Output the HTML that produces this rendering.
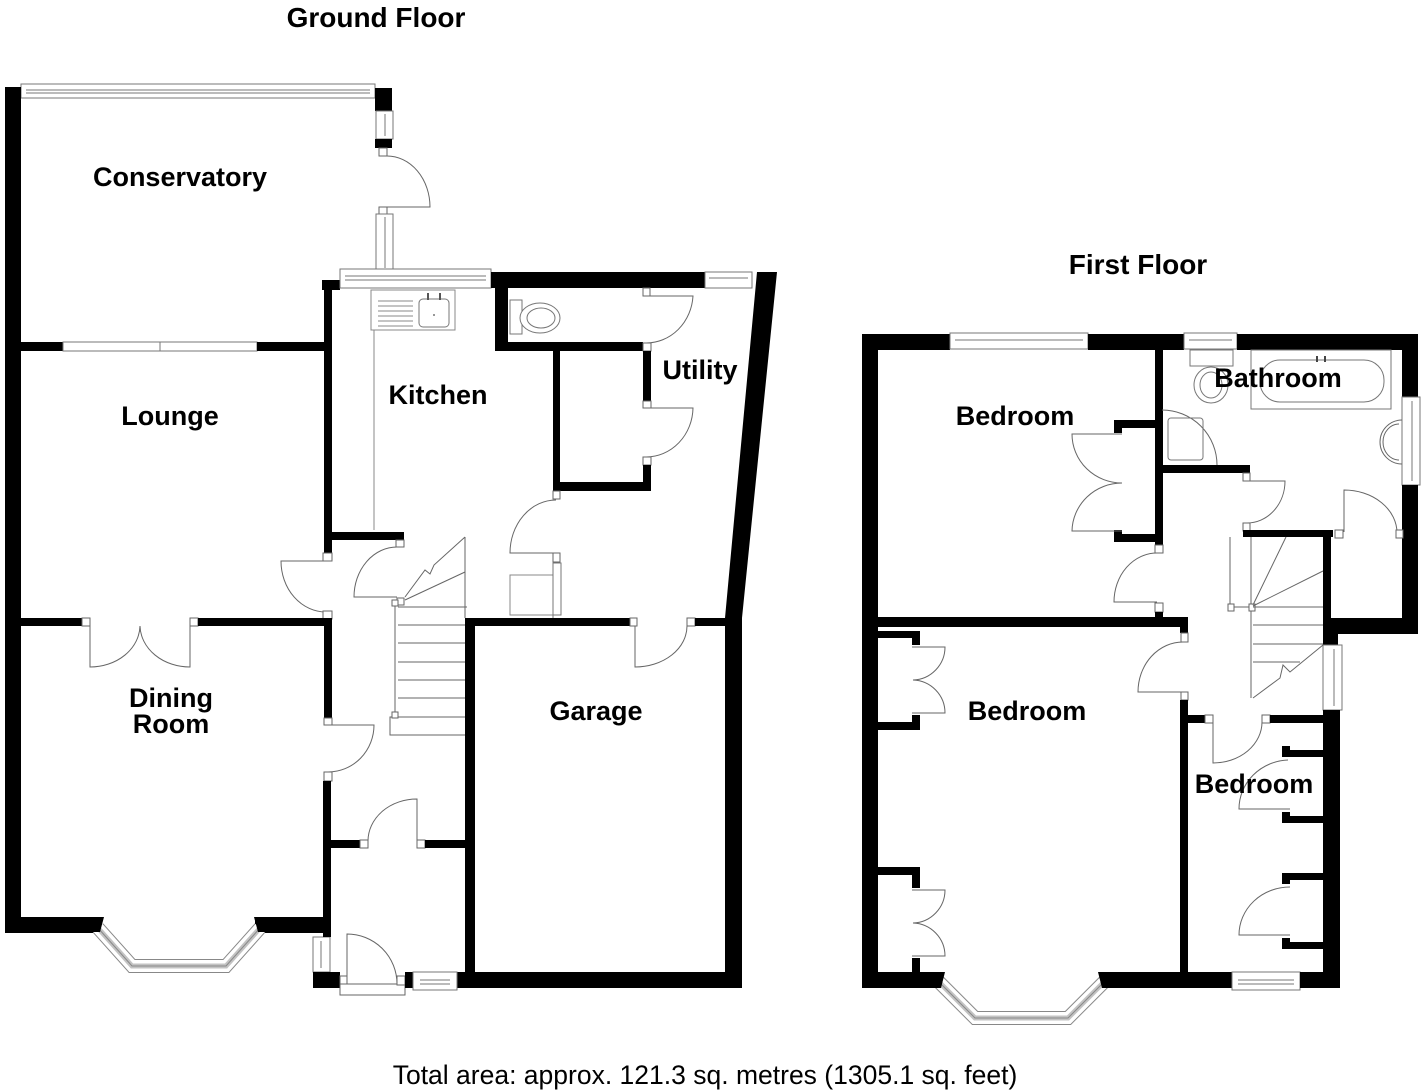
<!DOCTYPE html>
<html><head><meta charset="utf-8"><style>
html,body{margin:0;padding:0;background:#fff;}
svg{display:block;}
text{font-family:"Liberation Sans",Arial,sans-serif;font-weight:bold;fill:#000;}
</style></head><body>
<svg width="1424" height="1091" viewBox="0 0 1424 1091" xmlns="http://www.w3.org/2000/svg">
<defs>
<style>
.w{fill:#000}
.win{fill:#fff;stroke:#777;stroke-width:1}
.d{fill:none;stroke:#666;stroke-width:1}
.j{fill:#fff;stroke:#666;stroke-width:1}
</style>
</defs>

<!-- ================= GROUND FLOOR ================= -->
<text x="376" y="27" font-size="28" text-anchor="middle">Ground Floor</text>

<rect class="win" x="21" y="84" width="354" height="14"/>
<line x1="26" y1="90" x2="370" y2="90" stroke="#777"/>
<line x1="26" y1="93" x2="370" y2="93" stroke="#777"/>
<rect class="w" x="5" y="87" width="16" height="846"/>
<rect class="w" x="375" y="88" width="17" height="23"/>
<rect class="win" x="376" y="111" width="17" height="28"/>
<line x1="385" y1="114" x2="385" y2="136" stroke="#777"/>
<rect class="w" x="375" y="139" width="17" height="9"/>
<rect class="j" x="379" y="148" width="8" height="8"/>
<path class="d" d="M387 156 A43 51 0 0 1 430 207 L387 207"/>
<rect class="j" x="379" y="207" width="8" height="7"/>
<rect class="win" x="376" y="214" width="17" height="57"/>
<line x1="385" y1="217" x2="385" y2="268" stroke="#777"/>

<rect class="w" x="21" y="342" width="42" height="9"/>
<rect class="win" x="63" y="342" width="194" height="9"/>
<line x1="160" y1="342" x2="160" y2="351" stroke="#777"/>
<rect class="w" x="257" y="342" width="67" height="9"/>

<rect class="w" x="322" y="280" width="18" height="10"/>
<rect class="win" x="340" y="269" width="151" height="19"/>
<line x1="345" y1="276" x2="486" y2="276" stroke="#777"/>
<line x1="345" y1="280" x2="486" y2="280" stroke="#777"/>
<rect class="w" x="324" y="280" width="8" height="275"/>
<rect class="w" x="332" y="532" width="72" height="8"/>
<rect class="j" x="396" y="540" width="8" height="7"/>
<path class="d" d="M397 547 A43 50 0 0 0 354 597 L397 597"/>
<rect class="j" x="323" y="553" width="9" height="8"/>
<path class="d" d="M326 561 L281 561 A45 51 0 0 0 326 612"/>
<rect class="j" x="323" y="611" width="9" height="8"/>
<rect fill="#fff" stroke="#888" x="371" y="290" width="84" height="40"/>
<line x1="374" y1="330" x2="374" y2="530" stroke="#888"/>
<g stroke="#888"><line x1="378" y1="301" x2="413" y2="301"/><line x1="378" y1="306" x2="413" y2="306"/><line x1="378" y1="311" x2="413" y2="311"/><line x1="378" y1="316" x2="413" y2="316"/><line x1="378" y1="321" x2="413" y2="321"/><line x1="378" y1="326" x2="413" y2="326"/></g>
<rect fill="#fff" stroke="#777" x="419" y="299" width="30" height="28" rx="4"/>
<circle cx="434" cy="315" r="1" fill="#777"/>
<line x1="428" y1="293" x2="428" y2="300" stroke="#555" stroke-width="2"/>
<line x1="440" y1="293" x2="440" y2="300" stroke="#555" stroke-width="2"/>

<rect class="w" x="491" y="272" width="214" height="16"/>
<rect class="win" x="705" y="272" width="47" height="16"/>
<line x1="709" y1="278" x2="748" y2="278" stroke="#777"/>
<polygon class="w" points="757,272 777,272 742,618 742,988 725,988 725,618"/>
<rect class="w" x="495" y="288" width="13" height="62"/>
<rect class="w" x="495" y="342" width="148" height="9"/>
<rect fill="#fff" stroke="#777" x="510" y="300" width="12" height="34"/>
<ellipse fill="#fff" stroke="#777" cx="540" cy="318" rx="20" ry="15"/>
<ellipse fill="none" stroke="#777" cx="541" cy="318" rx="14" ry="10"/>
<rect class="j" x="643" y="288" width="7" height="8"/>
<path class="d" d="M646 296 L693 296 A47 50 0 0 1 646 343"/>
<rect class="j" x="643" y="343" width="8" height="8"/>
<rect class="w" x="553" y="351" width="7" height="140"/>
<rect class="w" x="553" y="482" width="98" height="9"/>
<rect class="w" x="643" y="351" width="8" height="50"/>
<rect class="j" x="643" y="401" width="8" height="7"/>
<path class="d" d="M646 408 L693 408 A47 50 0 0 1 646 457"/>
<rect class="j" x="643" y="457" width="8" height="8"/>
<rect class="w" x="643" y="465" width="8" height="25"/>
<rect class="j" x="553" y="491" width="7" height="8"/>
<path class="d" d="M556 500 A46 53 0 0 0 510 553 L556 553"/>
<rect class="j" x="553" y="553" width="7" height="9"/>
<rect class="win" x="553" y="563" width="8" height="52"/>
<rect fill="#fff" stroke="#888" x="510" y="575" width="43" height="40"/>
<line x1="553" y1="562" x2="553" y2="618" stroke="#777"/>

<g class="d">
<line x1="465" y1="537" x2="465" y2="618"/>
<polyline points="465,537 434,565 430,574 425,570 405,597"/>
<line x1="465" y1="572" x2="405" y2="600"/>
<rect class="j" x="397" y="598" width="7" height="7"/>
<line x1="395" y1="605" x2="395" y2="717"/>
<rect class="j" x="392" y="600" width="6" height="6"/>
<line x1="398" y1="607" x2="467" y2="607"/>
<line x1="398" y1="625" x2="467" y2="625"/>
<line x1="398" y1="643" x2="467" y2="643"/>
<line x1="398" y1="662" x2="467" y2="662"/>
<line x1="398" y1="680" x2="467" y2="680"/>
<line x1="398" y1="698" x2="467" y2="698"/>
<line x1="398" y1="717" x2="467" y2="717"/>
<polyline points="467,735 390,735 390,717 395,717"/>
<rect class="j" x="392" y="712" width="6" height="6"/>
</g>

<rect class="w" x="21" y="618" width="61" height="8"/>
<rect class="j" x="82" y="618" width="8" height="8"/>
<path class="d" d="M90 626 L90 667 A50 42 0 0 0 140 626 A50 42 0 0 0 190 667 L190 626"/>
<rect class="j" x="190" y="618" width="8" height="8"/>
<rect class="w" x="198" y="618" width="134" height="8"/>
<rect class="w" x="324" y="618" width="8" height="100"/>
<rect class="j" x="324" y="718" width="8" height="7"/>
<path class="d" d="M328 725 L374 725 A46 47 0 0 1 328 772"/>
<rect class="j" x="324" y="772" width="8" height="9"/>
<rect class="w" x="323" y="781" width="8" height="152"/>
<rect class="w" x="331" y="840" width="29" height="8"/>
<rect class="j" x="360" y="840" width="8" height="8"/>
<path class="d" d="M368 841 A49 42 0 0 1 417 799 L417 841"/>
<rect class="j" x="417" y="840" width="8" height="8"/>
<rect class="w" x="425" y="840" width="42" height="8"/>
<rect class="w" x="465" y="618" width="10" height="370"/>
<rect class="w" x="475" y="618" width="155" height="8"/>
<rect class="j" x="630" y="618" width="7" height="8"/>
<path class="d" d="M635 626 L635 667 A52 41 0 0 0 687 626"/>
<rect class="j" x="687" y="618" width="8" height="8"/>
<rect class="w" x="695" y="618" width="32" height="8"/>
<rect class="w" x="457" y="972" width="285" height="16"/>

<rect class="w" x="5" y="917" width="97" height="16"/>
<rect class="w" x="255" y="917" width="75" height="16"/>
<path d="M98 928 L132 966 L226 966 L260 928" fill="none" stroke="#888" stroke-width="14"/>
<path d="M98 928 L132 966 L226 966 L260 928" fill="none" stroke="#fff" stroke-width="12"/>
<path d="M98 928 L132 966 L226 966 L260 928" fill="none" stroke="#888" stroke-width="1"/>
<path d="M98 928 L132 966 L226 966 L260 928" fill="none" stroke="#888" stroke-width="5" opacity=".5"/>
<polygon class="w" points="92,917 104,917 100,932 92,932"/>
<polygon class="w" points="254,917 266,917 266,932 258,932"/>
<rect class="win" x="313" y="937" width="17" height="35"/>
<line x1="321" y1="941" x2="321" y2="968" stroke="#777"/>
<rect class="w" x="323" y="933" width="8" height="4"/>
<rect class="w" x="313" y="972" width="27" height="16"/>
<rect class="j" x="340" y="976" width="7" height="9"/>
<rect class="j" x="340" y="984" width="65" height="11"/>
<path class="d" d="M347 984 L347 934 A50 50 0 0 1 397 984"/>
<rect class="j" x="397" y="976" width="8" height="9"/>
<rect class="w" x="405" y="972" width="8" height="16"/>
<rect class="win" x="413" y="972" width="44" height="18"/>
<line x1="420" y1="980" x2="450" y2="980" stroke="#777"/>
<line x1="420" y1="984" x2="450" y2="984" stroke="#777"/>

<text x="180" y="186" font-size="27" text-anchor="middle">Conservatory</text>
<text x="170" y="425" font-size="27" text-anchor="middle">Lounge</text>
<text x="438" y="404" font-size="27" text-anchor="middle">Kitchen</text>
<text x="700" y="379" font-size="27" text-anchor="middle">Utility</text>
<text x="171" y="707" font-size="27" text-anchor="middle">Dining</text>
<text x="171" y="733" font-size="27" text-anchor="middle">Room</text>
<text x="596" y="720" font-size="27" text-anchor="middle">Garage</text>

<!-- ================= FIRST FLOOR ================= -->
<text x="1138" y="274" font-size="28" text-anchor="middle">First Floor</text>

<rect class="w" x="862" y="334" width="88" height="16"/>
<rect class="win" x="950" y="333" width="138" height="16"/>
<line x1="955" y1="340" x2="1083" y2="340" stroke="#777"/>
<rect class="w" x="1088" y="334" width="96" height="16"/>
<rect class="win" x="1184" y="333" width="53" height="16"/>
<line x1="1189" y1="340" x2="1232" y2="340" stroke="#777"/>
<rect class="w" x="1237" y="334" width="181" height="16"/>
<rect class="w" x="862" y="334" width="16" height="654"/>
<rect class="w" x="1402" y="334" width="16" height="63"/>
<rect class="win" x="1402" y="397" width="18" height="88"/>
<line x1="1412" y1="401" x2="1412" y2="481" stroke="#777"/>
<rect class="w" x="1402" y="485" width="16" height="149"/>
<rect class="w" x="1331" y="618" width="87" height="16"/>
<rect class="w" x="1323" y="531" width="8" height="114"/>
<rect class="w" x="1323" y="618" width="15" height="27"/>
<rect class="win" x="1323" y="645" width="19" height="65"/>
<line x1="1334" y1="649" x2="1334" y2="706" stroke="#777"/>
<rect class="w" x="1323" y="710" width="17" height="278"/>
<rect class="w" x="862" y="972" width="81" height="16"/>
<rect class="w" x="1100" y="972" width="132" height="16"/>
<rect class="win" x="1232" y="972" width="68" height="18"/>
<line x1="1238" y1="980" x2="1294" y2="980" stroke="#777"/>
<line x1="1238" y1="984" x2="1294" y2="984" stroke="#777"/>
<rect class="w" x="1300" y="972" width="40" height="16"/>
<path d="M937 980 L975 1018 L1068 1018 L1106 980" fill="none" stroke="#888" stroke-width="14"/>
<path d="M937 980 L975 1018 L1068 1018 L1106 980" fill="none" stroke="#fff" stroke-width="12"/>
<path d="M937 980 L975 1018 L1068 1018 L1106 980" fill="none" stroke="#888" stroke-width="5" opacity=".5"/>
<path d="M937 980 L975 1018 L1068 1018 L1106 980" fill="none" stroke="#888" stroke-width="1"/>
<polygon class="w" points="930,972 945,972 941,988 930,988"/>
<polygon class="w" points="1098,972 1112,972 1112,988 1102,988"/>

<rect class="w" x="1155" y="350" width="8" height="195"/>
<rect class="w" x="1114" y="420" width="41" height="8"/>
<rect class="w" x="1114" y="420" width="8" height="13"/>
<rect class="w" x="1114" y="534" width="41" height="8"/>
<rect class="w" x="1114" y="530" width="8" height="12"/>
<path class="d" d="M1122 434 L1072 434 A50 49 0 0 0 1122 483 A50 49 0 0 0 1072 531 L1122 531"/>
<rect class="j" x="1155" y="545" width="8" height="8"/>
<path class="d" d="M1157 553 A43 49 0 0 0 1114 602 L1157 602"/>
<rect class="j" x="1155" y="603" width="8" height="9"/>
<rect class="w" x="1155" y="612" width="8" height="6"/>
<rect class="w" x="878" y="617" width="310" height="10"/>
<rect class="w" x="1180" y="617" width="8" height="16"/>
<rect class="j" x="1181" y="633" width="7" height="9"/>
<path class="d" d="M1183 642 A45 50 0 0 0 1138 692 L1183 692"/>
<rect class="j" x="1181" y="692" width="7" height="8"/>
<rect class="w" x="1180" y="700" width="8" height="272"/>
<rect class="w" x="878" y="631" width="42" height="7"/>
<rect class="w" x="912" y="631" width="8" height="14"/>
<rect class="w" x="878" y="722" width="42" height="8"/>
<rect class="w" x="912" y="715" width="8" height="15"/>
<path class="d" d="M912 647 L945 647 A33 33 0 0 1 913 680 A33 33 0 0 1 945 713 L912 713"/>
<rect class="w" x="878" y="867" width="42" height="8"/>
<rect class="w" x="912" y="867" width="8" height="21"/>
<rect class="w" x="912" y="958" width="8" height="14"/>
<path class="d" d="M912 890 L945 890 A33 33 0 0 1 913 923 A33 33 0 0 1 945 956 L912 956"/>
<rect class="w" x="1188" y="715" width="17" height="8"/>
<rect class="j" x="1205" y="715" width="8" height="8"/>
<path class="d" d="M1213 723 L1213 763 A49 41 0 0 0 1262 722"/>
<rect class="j" x="1262" y="715" width="8" height="8"/>
<rect class="w" x="1270" y="715" width="53" height="8"/>
<rect class="w" x="1282" y="750" width="41" height="7"/>
<rect class="w" x="1282" y="746" width="8" height="11"/>
<rect class="w" x="1282" y="816" width="41" height="7"/>
<rect class="w" x="1282" y="812" width="8" height="11"/>
<path class="d" d="M1290 809 L1239 809 A51 49 0 0 1 1288 760"/>
<rect class="w" x="1282" y="873" width="41" height="7"/>
<rect class="w" x="1282" y="873" width="8" height="11"/>
<rect class="w" x="1282" y="942" width="41" height="7"/>
<rect class="w" x="1282" y="938" width="8" height="11"/>
<path class="d" d="M1290 935 L1239 935 A51 48 0 0 1 1290 887"/>

<rect class="w" x="1162" y="465" width="88" height="8"/>
<rect class="j" x="1243" y="473" width="7" height="8"/>
<path class="d" d="M1250 481 L1285 481 A38 42 0 0 1 1247 523"/>
<rect class="j" x="1243" y="523" width="7" height="8"/>
<rect class="w" x="1243" y="530" width="90" height="7"/>
<rect class="j" x="1335" y="530" width="8" height="8"/>
<path class="d" d="M1344 532 L1344 490 A53 43 0 0 1 1397 533"/>
<rect class="j" x="1396" y="530" width="7" height="8"/>
<rect fill="#fff" stroke="#777" x="1190" y="350" width="43" height="16"/>
<ellipse fill="#fff" stroke="#777" cx="1211" cy="385" rx="17" ry="18"/>
<ellipse fill="none" stroke="#777" cx="1211" cy="385" rx="11" ry="13"/>
<rect fill="#fff" stroke="#777" x="1251" y="350" width="140" height="59"/>
<rect fill="none" stroke="#777" x="1260" y="360" width="124" height="42" rx="20"/>
<line x1="1317" y1="356" x2="1317" y2="362" stroke="#444" stroke-width="2"/>
<line x1="1325" y1="356" x2="1325" y2="362" stroke="#444" stroke-width="2"/>
<path class="d" d="M1162 410 A55 55 0 0 1 1217 465"/>
<rect fill="none" stroke="#777" x="1168" y="418" width="35" height="42" rx="3"/>
<path class="d" d="M1402 420 A22 22 0 0 0 1402 464"/>
<path class="d" d="M1399 424 A16 18 0 0 0 1399 460"/>

<g class="d">
<line x1="1230" y1="537" x2="1230" y2="605"/>
<line x1="1251" y1="537" x2="1251" y2="698"/>
<rect class="j" x="1228" y="604" width="6" height="7"/>
<rect class="j" x="1249" y="604" width="6" height="7"/>
<line x1="1234" y1="607" x2="1249" y2="607"/>
<line x1="1253" y1="605" x2="1286" y2="537"/>
<line x1="1253" y1="606" x2="1323" y2="571"/>
<line x1="1253" y1="607" x2="1323" y2="607"/>
<line x1="1253" y1="625" x2="1323" y2="625"/>
<line x1="1253" y1="644" x2="1323" y2="644"/>
<line x1="1253" y1="662" x2="1300" y2="662"/>
<polyline points="1253,698 1280,678 1283,665 1290,672 1323,645"/>
</g>

<text x="1015" y="425" font-size="27" text-anchor="middle">Bedroom</text>
<text x="1278" y="387" font-size="27" text-anchor="middle">Bathroom</text>
<text x="1027" y="720" font-size="27" text-anchor="middle">Bedroom</text>
<text x="1254" y="793" font-size="27" text-anchor="middle">Bedroom</text>

<text x="705" y="1084" font-size="26.5" text-anchor="middle" style="font-weight:normal">Total area: approx. 121.3 sq. metres (1305.1 sq. feet)</text>
</svg>
</body></html>
